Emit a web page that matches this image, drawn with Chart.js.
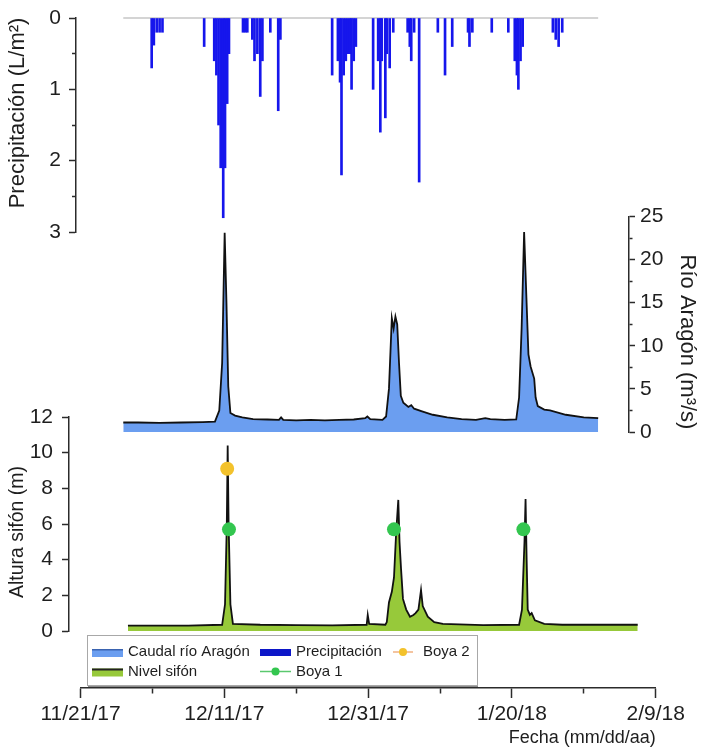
<!DOCTYPE html>
<html>
<head>
<meta charset="utf-8">
<title>Precipitación, caudal y nivel del sifón</title>
<script src="https://cdn.jsdelivr.net/npm/chart.js@4.4.1/dist/chart.umd.min.js"></script>
<style>
  html, body { margin: 0; padding: 0; background: #fff; }
  canvas { display: block; }
</style>
</head>
<body>
<canvas id="chart" width="702" height="747"></canvas>
<script>
// days are counted from 11/21/17
const xTickLabels = ['11/21/17', '12/11/17', '12/31/17', '1/20/18', '2/9/18'];

// hourly rain pulses (L/m²)
const rainDays = [
  9.9, 10.2, 10.6, 11.0, 11.4, 17.2,
  18.6, 18.9, 19.2, 19.5, 19.85, 20.1, 20.4, 20.65,
  22.6, 22.9, 23.2, 23.9, 24.2, 24.6, 25.0, 25.3, 26.4, 27.5, 27.8,
  35.0, 35.8, 36.1, 36.3, 36.6, 36.9, 37.2, 37.5, 37.7, 38.0, 38.3,
  40.7, 41.4, 41.7, 41.9, 42.4, 42.6, 43.0, 43.5,
  45.5, 45.8, 46.0, 46.4, 47.1, 49.7, 50.7, 51.7, 53.9, 54.1, 54.5,
  57.2, 59.5, 60.4, 60.7, 60.9, 61.2, 61.5, 65.7, 66.1, 66.5, 67.0
];
const rainValues = [
  0.7, 0.38, 0.2, 0.2, 0.2, 0.4,
  0.6, 0.8, 1.5, 2.1, 2.8, 2.1, 1.2, 0.5,
  0.2, 0.2, 0.2, 0.3, 0.6, 0.5, 1.1, 0.6, 0.2, 1.3, 0.3,
  0.8, 0.6, 0.9, 2.2, 0.8, 0.6, 0.5, 0.5, 1.0, 0.6, 0.4,
  1.0, 0.6, 1.6, 0.6, 1.4, 0.5, 0.7, 0.2,
  0.2, 0.4, 0.6, 0.2, 2.3, 0.2, 0.8, 0.4, 0.2, 0.4, 0.2,
  0.2, 0.2, 0.6, 0.8, 1.0, 0.6, 0.4, 0.2, 0.3, 0.4, 0.2
];

// river discharge (m³/s)
const flowDays = [
  5.95, 8, 11, 14, 17, 18.7, 19.3, 19.7, 20.05, 20.3, 20.55, 20.85,
  21.5, 22.5, 24, 26, 27.6, 27.9, 28.2, 30, 32, 34, 36, 38, 39.6, 39.9, 40.3,
  42, 42.5, 42.9, 43.3, 43.55, 43.8, 44.05, 44.3, 44.55, 44.9, 45.6, 46, 46.4,
  47.5, 49, 51, 53, 55, 56.3, 57, 59, 60.6, 61.0, 61.35, 61.7, 62.0, 62.3,
  62.6, 63.1, 63.3, 63.6, 64.5, 65.3, 67.5, 70, 72.0
];
const flowValues = [
  1.1, 1.1, 1.05, 1.1, 1.15, 1.2, 2.5, 8, 23.1, 15, 5.3, 2.2,
  1.9, 1.7, 1.5, 1.45, 1.4, 1.7, 1.4, 1.35, 1.4, 1.35, 1.4, 1.45, 1.6, 1.8, 1.5,
  1.4, 1.8, 5, 13.2, 12, 13.4, 12.5, 8, 4.2, 3.4, 2.9, 3.1, 2.7,
  2.4, 2.0, 1.7, 1.5, 1.4, 1.6, 1.5, 1.4, 1.45, 4, 12, 23.2, 16, 9,
  7.6, 6.2, 4, 3.0, 2.6, 2.5, 2.0, 1.7, 1.6
];

// water height in the siphon (m)
const levelDays = [
  6.6, 10, 15, 19.7, 20.1, 20.35, 20.47, 20.6, 20.85, 21.2,
  25, 30, 35, 39.8, 39.95, 40.15, 42.4, 42.6, 42.9, 43.3, 43.6, 43.9, 44.2,
  44.37, 44.58, 44.85, 45.3, 45.83, 46.3, 46.6, 47.0, 47.36, 47.6, 48.3, 49.2, 50.4,
  56, 61.0, 61.4, 61.75, 61.9, 62.05, 62.2, 62.5, 62.75, 63.2, 64.5, 67, 72, 77.5
];
const levelValues = [
  0.3, 0.3, 0.3, 0.35, 1.5, 6, 10.4, 6, 1.5, 0.4,
  0.35, 0.33, 0.32, 0.35, 0.9, 0.4, 0.35, 0.5, 1.6, 2.2, 3, 5.5, 7.35,
  5, 3.5, 1.8, 1.2, 0.8, 0.9, 1.0, 1.2, 2.3, 1.4, 0.8, 0.5, 0.4,
  0.33, 0.35, 1.2, 5, 7.4, 4, 1.2, 0.9, 1.0, 0.6, 0.4, 0.35, 0.35, 0.35
];

// buoy readings (m)
const buoy1Days = [20.65, 43.6, 61.6];
const buoy1Values = [5.7, 5.7, 5.7];
const buoy2Days = [20.4];
const buoy2Values = [9.1];

const toPoints = (xs, ys) => xs.map((x, i) => ({ x, y: ys[i] }));

const FONT = "'Liberation Sans', Arial, sans-serif";
const INK = '#1e1e1e';
const AXIS = '#2b2b2b';

const colors = {
  rain: '#1616ec',
  flow: '#6b9ef0',
  level: '#97c93a',
  buoy1: '#33c64f',
  buoy2: '#f3c22c'
};

// each scale gets its own box so the three panels share one time axis
const scaleBoxes = {
  x: { left: 80.5, right: 655.7, top: 688, bottom: 749 },
  rain: { left: 0, right: 76, top: 18, bottom: 232 },
  flow: { left: 629, right: 702, top: 216.5, bottom: 432 },
  level: { left: 0, right: 69, top: 417, bottom: 631 }
};

const panelLayout = {
  id: 'panelLayout',
  afterLayout(chart) {
    Object.entries(scaleBoxes).forEach(([id, b]) => {
      const s = chart.scales[id];
      Object.assign(s, b, { width: b.right - b.left, height: b.bottom - b.top });
      s.configure();
    });
    chart.chartArea = { left: 0, top: 0, right: chart.width, bottom: chart.height, width: chart.width, height: chart.height };
  }
};

const sideTitles = [
  { text: 'Precipitación (L/m²)', x: 17.5, y: 113, rot: -Math.PI / 2, size: 22 },
  { text: 'Río Aragón (m³/s)', x: 687, y: 342, rot: Math.PI / 2, size: 22 },
  { text: 'Altura sifón (m)', x: 18, y: 532, rot: -Math.PI / 2, size: 19.5 }
];

const axisTitles = {
  id: 'axisTitles',
  afterDraw(chart) {
    const ctx = chart.ctx;
    ctx.save();
    ctx.fillStyle = INK;
    ctx.textAlign = 'center';
    ctx.textBaseline = 'middle';
    sideTitles.forEach(t => {
      ctx.save();
      ctx.font = `${t.size}px ${FONT}`;
      ctx.translate(t.x, t.y);
      ctx.rotate(t.rot);
      ctx.fillText(t.text, 0, 0);
      ctx.restore();
    });
    ctx.restore();
  }
};

// legend laid out as a 3 x 2 grid, column by column
const legendBox = {
  id: 'legendBox',
  afterDraw(chart) {
    const ctx = chart.ctx;
    const byKey = {};
    chart.data.datasets.forEach(d => { if (d.key) byKey[d.key] = d; });
    const items = [
      { key: 'flow', col: 0, row: 0 },
      { key: 'level', col: 0, row: 1 },
      { key: 'rain', col: 1, row: 0 },
      { key: 'buoy1', col: 1, row: 1 },
      { key: 'buoy2', col: 2, row: 0 }
    ];
    const cols = [{ sx: 92, sw: 31, tx: 128 }, { sx: 260, sw: 31, tx: 296 }, { sx: 393, sw: 20, tx: 423 }];
    const rows = [652, 671.5];

    ctx.save();
    ctx.fillStyle = '#fff';
    ctx.fillRect(87.5, 635.5, 390, 50);
    ctx.strokeStyle = '#a8a8a8';
    ctx.lineWidth = 1;
    ctx.strokeRect(87.5, 635.5, 390, 50);
    ctx.strokeStyle = '#8a8a8a';
    ctx.beginPath();
    ctx.moveTo(88, 686.5);
    ctx.lineTo(478, 686.5);
    ctx.stroke();

    ctx.font = `15px ${FONT}`;
    ctx.textBaseline = 'middle';
    ctx.textAlign = 'left';
    items.forEach(it => {
      const d = byKey[it.key];
      const c = cols[it.col];
      const y = rows[it.row];
      if (d.type === 'bar') {
        ctx.fillStyle = '#0c16c8';
        ctx.fillRect(c.sx, y - 3, c.sw, 7);
      } else if (d.showLine === false) {
        ctx.strokeStyle = d.legendLine;
        ctx.lineWidth = 1.5;
        ctx.beginPath();
        ctx.moveTo(c.sx, y);
        ctx.lineTo(c.sx + c.sw, y);
        ctx.stroke();
        ctx.fillStyle = d.pointBackgroundColor;
        ctx.beginPath();
        ctx.arc(c.sx + c.sw / 2, y, 4, 0, Math.PI * 2);
        ctx.fill();
      } else {
        ctx.fillStyle = d.backgroundColor;
        ctx.fillRect(c.sx, y - 3, c.sw, 8);
        ctx.fillStyle = d.key === 'level' ? '#222' : '#3a63b0';
        ctx.fillRect(c.sx, y - 3, c.sw, d.key === 'level' ? 2 : 1.5);
      }
      ctx.fillStyle = INK;
      ctx.fillText(d.label, c.tx, y);
    });
    ctx.restore();
  }
};

// short minor ticks: only part of the tick line is dashed in
const minorDash = (isMinor, pattern) => ctx => (ctx.tick && isMinor(ctx.tick.value) ? pattern : []);

const tickFont = { family: FONT, size: 21 };

new Chart(document.getElementById('chart'), {
  type: 'line',
  data: {
    datasets: [
      {
        key: 'buoy2', label: 'Boya 2', order: 0,
        data: toPoints(buoy2Days, buoy2Values), yAxisID: 'level', showLine: false,
        pointRadius: 7, pointBorderWidth: 0, pointBackgroundColor: colors.buoy2,
        legendLine: '#f0b080', clip: false
      },
      {
        key: 'buoy1', label: 'Boya 1', order: 1,
        data: toPoints(buoy1Days, buoy1Values), yAxisID: 'level', showLine: false,
        pointRadius: 7, pointBorderWidth: 0, pointBackgroundColor: colors.buoy1,
        legendLine: '#5ac86e', clip: false
      },
      {
        key: 'level', label: 'Nivel sifón', order: 2,
        data: toPoints(levelDays, levelValues), yAxisID: 'level',
        borderColor: '#111', borderWidth: 1.8, backgroundColor: colors.level,
        fill: 'origin', pointRadius: 0, tension: 0, clip: false
      },
      {
        key: 'flow', label: 'Caudal río Aragón', order: 3,
        data: toPoints(flowDays, flowValues), yAxisID: 'flow',
        borderColor: '#111', borderWidth: 1.8, backgroundColor: colors.flow,
        fill: 'origin', pointRadius: 0, tension: 0, clip: false
      },
      {
        key: 'rain', label: 'Precipitación', type: 'bar', order: 4,
        data: toPoints(rainDays, rainValues), yAxisID: 'rain',
        backgroundColor: colors.rain, barThickness: 2, grouped: false, clip: false
      },
      {
        label: 'rain baseline', order: 5,
        data: toPoints([flowDays[0], flowDays[flowDays.length - 1]], [0, 0]), yAxisID: 'rain',
        borderColor: '#a9a9a9', borderWidth: 1, pointRadius: 0, fill: false, clip: false
      }
    ]
  },
  options: {
    responsive: false,
    animation: false,
    devicePixelRatio: 1,
    events: [],
    plugins: { legend: { display: false }, tooltip: { enabled: false } },
    scales: {
      x: {
        type: 'linear', position: 'bottom', min: 0, max: 80, offset: false,
        border: { color: AXIS, width: 1.5 },
        grid: {
          offset: false, drawOnChartArea: false, tickLength: 10, tickColor: AXIS, tickWidth: 1.5,
          tickBorderDash: minorDash(v => v % 20 !== 0, [5, 40])
        },
        ticks: {
          stepSize: 10, autoSkip: false, maxRotation: 0, minRotation: 0, padding: 4,
          color: INK, font: tickFont,
          callback: v => (v % 20 === 0 ? xTickLabels[v / 20] : '')
        },
        title: {
          display: true, text: 'Fecha (mm/dd/aa)', align: 'end', color: INK,
          font: { family: FONT, size: 18 }, padding: { top: 0, bottom: 0 }
        }
      },
      rain: {
        type: 'linear', position: 'left', reverse: true, min: 0, max: 3,
        border: { color: AXIS, width: 1.5 },
        grid: {
          drawOnChartArea: false, tickLength: 7, tickColor: AXIS, tickWidth: 1.5,
          tickBorderDash: minorDash(v => !Number.isInteger(v), [0, 3, 4, 40])
        },
        ticks: {
          stepSize: 0.5, autoSkip: false, padding: 8, color: INK, font: tickFont,
          callback: v => (Number.isInteger(v) ? v : '')
        }
      },
      flow: {
        type: 'linear', position: 'right', min: 0, max: 25,
        border: { color: AXIS, width: 1.5 },
        grid: {
          drawOnChartArea: false, tickLength: 6, tickColor: AXIS, tickWidth: 1.5,
          tickBorderDash: minorDash(v => v % 5 !== 0, [3, 40])
        },
        ticks: {
          stepSize: 2.5, autoSkip: false, padding: 5, color: INK, font: tickFont,
          callback: v => (v % 5 === 0 ? v : '')
        }
      },
      level: {
        type: 'linear', position: 'left', min: 0, max: 12,
        border: { color: AXIS, width: 1.5 },
        grid: { drawOnChartArea: false, tickLength: 7, tickColor: AXIS, tickWidth: 1.5 },
        ticks: { stepSize: 2, autoSkip: false, padding: 9, color: INK, font: tickFont }
      }
    }
  },
  plugins: [panelLayout, axisTitles, legendBox]
});
</script>
</body>
</html>
